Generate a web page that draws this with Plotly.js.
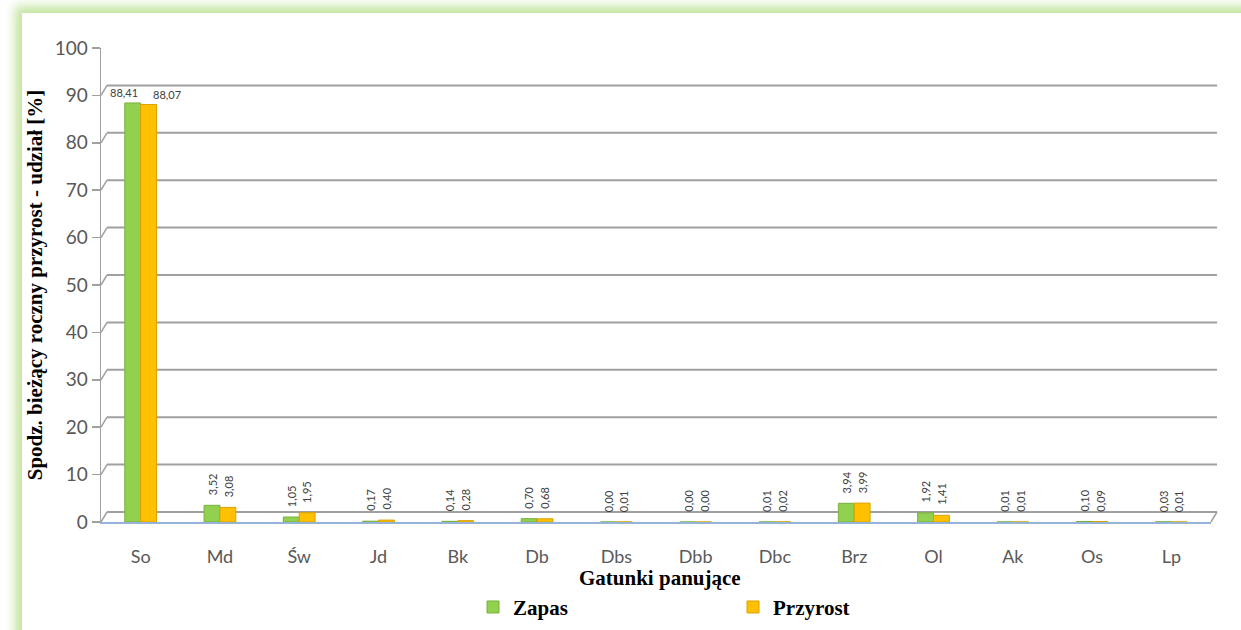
<!DOCTYPE html>
<html>
<head>
<meta charset="utf-8">
<script src="https://cdn.plot.ly/plotly-3.0.1.min.js"></script>
<style>
  html, body { margin: 0; padding: 0; background: #ffffff; width: 1241px; height: 630px; overflow: hidden; }
  #glow { position: absolute; left: 22px; top: 13px; width: 1300px; height: 700px; background: #ffffff;
          box-shadow: 0 0 10px 7px rgba(190, 225, 150, 0.9); }
  #chart { position: absolute; left: 0; top: 0; width: 1241px; height: 630px; }
</style>
</head>
<body>
<div id="glow"></div>
<div id="chart"></div>
<script>
const categories = ['So', 'Md', 'Św', 'Jd', 'Bk', 'Db', 'Dbs', 'Dbb', 'Dbc', 'Brz', 'Ol', 'Ak', 'Os', 'Lp'];
const zapas    = [88.41, 3.52, 1.05, 0.17, 0.14, 0.70, 0.00, 0.00, 0.01, 3.94, 1.92, 0.01, 0.10, 0.03];
const przyrost = [88.07, 3.08, 1.95, 0.40, 0.28, 0.68, 0.01, 0.00, 0.02, 3.99, 1.41, 0.01, 0.09, 0.01];
const yTicks = [0, 10, 20, 30, 40, 50, 60, 70, 80, 90, 100];
const xTitle = 'Gatunki panujące';
const yTitle = 'Spodz. bieżący roczny przyrost - udział [%]';

const fmt = v => v.toFixed(2).replace('.', ',');

const L = 101, R = 1211, T = 48, B = 522;
const plotW = R - L, plotH = B - T;

const traces = [
  { type: 'bar', name: 'Zapas', x: categories, y: zapas,
    marker: { color: '#92D050', line: { color: '#78B03A', width: 1 } }, hoverinfo: 'x+y' },
  { type: 'bar', name: 'Przyrost', x: categories, y: przyrost,
    marker: { color: '#FFC000', line: { color: '#D9A200', width: 1 } }, hoverinfo: 'x+y' }
];

const annotations = [];
categories.forEach((c, i) => {
  [[zapas, -8], [przyrost, 8]].forEach(([arr, dx], s) => {
    const v = arr[i];
    if (v > 50) {
      annotations.push({ x: c, y: v, xref: 'x', yref: 'y', text: fmt(v), showarrow: false,
        xanchor: s === 0 ? 'right' : 'left', yanchor: 'bottom',
        xshift: s === 0 ? -1 : 10, yshift: 2,
        font: { family: 'Lato, sans-serif', size: 11, color: '#404040' } });
    } else {
      annotations.push({ x: c, y: v, xref: 'x', yref: 'y', text: fmt(v), showarrow: false,
        textangle: -90, xanchor: 'center', yanchor: 'bottom', xshift: dx, yshift: 8,
        font: { family: 'Lato, sans-serif', size: 11, color: '#404040' } });
    }
  });
});
// x-axis title
annotations.push({ text: xTitle, xref: 'paper', yref: 'paper', x: 0.5, y: 0, yshift: -(578 - B),
  xshift: 4, xanchor: 'center', yanchor: 'middle', showarrow: false,
  font: { family: 'Liberation Serif, serif', size: 21, color: '#000000', weight: 'bold' } });

// pseudo-3D back-wall gridlines (offset up/right from the axis ticks)
const shapes = [];
yTicks.forEach(v => {
  shapes.push({ type: 'line', layer: 'below', xref: 'paper', xsizemode: 'pixel', xanchor: 0, x0: 0, x1: 6,
    yref: 'y', ysizemode: 'pixel', yanchor: v, y0: 0, y1: 10, line: { color: '#A0A0A0', width: 1.5 } });
  shapes.push({ type: 'line', layer: 'below', xref: 'paper', xsizemode: 'pixel', xanchor: 0, x0: 6, x1: plotW + 6,
    yref: 'y', ysizemode: 'pixel', yanchor: v, y0: 10, y1: 10, line: { color: '#A0A0A0', width: 2 } });
});
shapes.push({ type: 'line', layer: 'below', xref: 'paper', xsizemode: 'pixel', xanchor: 1, x0: 0, x1: 6,
  yref: 'y', ysizemode: 'pixel', yanchor: 0, y0: 0, y1: 10, line: { color: '#A0A0A0', width: 1.5 } });

const layout = {
  width: 1241, height: 630,
  margin: { l: L, r: 1241 - R, t: T, b: 630 - B, pad: 0 },
  paper_bgcolor: 'rgba(0,0,0,0)', plot_bgcolor: 'rgba(0,0,0,0)',
  barmode: 'group', bargap: 0.6, bargroupgap: 0,
  showlegend: true,
  legend: { orientation: 'h', x: (473 - L) / plotW, xanchor: 'left', yref: 'container', y: 0.036, yanchor: 'middle',
    entrywidth: 215, entrywidthmode: 'pixels', itemwidth: 30,
    font: { family: 'Liberation Serif, serif', size: 21, color: '#000000', weight: 'bold' } },
  xaxis: {
    type: 'category', showgrid: false, zeroline: false, automargin: false,
    showline: true, linecolor: '#95B3D7', linewidth: 1.5,
    ticks: '', ticklabelstandoff: 18,
    tickfont: { family: 'Lato, sans-serif', size: 18, color: '#595959' }
  },
  yaxis: {
    range: [0, 100], tickvals: yTicks, showgrid: false, zeroline: false, automargin: false,
    showline: true, linecolor: '#A0A0A0', linewidth: 1.5,
    ticks: 'outside', ticklen: 8, tickcolor: '#A0A0A0', tickwidth: 1.5,
    tickfont: { family: 'Lato, sans-serif', size: 19, color: '#595959' },
    title: { text: yTitle, standoff: 6,
      font: { family: 'Liberation Serif, serif', size: 21, color: '#000000', weight: 'bold' } }
  },
  annotations: annotations,
  shapes: shapes
};

Plotly.newPlot('chart', traces, layout, { displayModeBar: false, staticPlot: true });
</script>
</body>
</html>
